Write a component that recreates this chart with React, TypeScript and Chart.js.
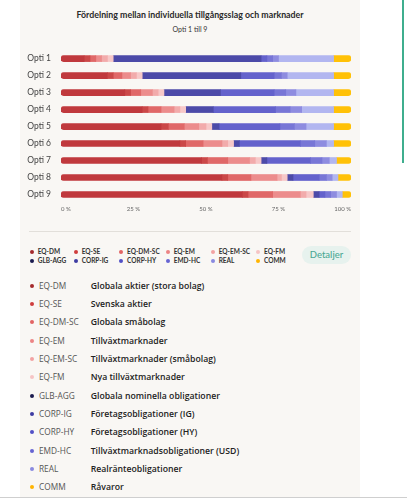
import React, { useEffect, useRef } from "react";
import { Chart, registerables } from "chart.js";

Chart.register(...registerables);

const categories = ["Opti 1", "Opti 2", "Opti 3", "Opti 4", "Opti 5", "Opti 6", "Opti 7", "Opti 8", "Opti 9"];
const tickValues = [0, 25, 50, 75, 100];

const eqDm = [8, 16, 22, 28, 34.5, 41, 48.5, 55.5, 62.5];
const eqSe = [2, 2, 2, 2, 2.5, 2, 2, 2, 2];
const eqDmSc = [2, 3, 3.5, 4.5, 5.5, 6, 7, 8, 8.5];
const eqEm = [2, 3, 4, 4.5, 5, 6.5, 7.5, 9, 9.5];
const eqEmSc = [2, 2, 2, 2, 2.5, 2, 2, 1.5, 2];
const eqFm = [2, 2, 2, 2, 2, 2, 2, 2, 2.5];
const glbAgg = [51, 34, 19.5, 9.5, 2.5, 2, 2, 2, 2];
const corpIg = [2, 11.5, 18.5, 21.5, 21, 21, 15, 9, 2];
const corpHy = [2, 2.5, 4, 5, 5, 5, 4, 2.5, 2];
const emdHc = [2, 2, 3.5, 4, 4, 4, 2.5, 2, 2];
const real = [19, 16, 13, 11, 9.5, 2.5, 2.5, 2, 2];
const comm = [6, 6, 6, 6, 6, 6, 5, 4.5, 3];

const codes = ["EQ-DM", "EQ-SE", "EQ-DM-SC", "EQ-EM", "EQ-EM-SC", "EQ-FM", "GLB-AGG", "CORP-IG", "CORP-HY", "EMD-HC", "REAL", "COMM"];
const descriptions = [
  "Globala aktier (stora bolag)",
  "Svenska aktier",
  "Globala småbolag",
  "Tillväxtmarknader",
  "Tillväxtmarknader (småbolag)",
  "Nya tillväxtmarknader",
  "Globala nominella obligationer",
  "Företagsobligationer (IG)",
  "Företagsobligationer (HY)",
  "Tillväxtmarknadsobligationer (USD)",
  "Realränteobligationer",
  "Råvaror",
];
const seriesValues = [eqDm, eqSe, eqDmSc, eqEm, eqEmSc, eqFm, glbAgg, corpIg, corpHy, emdHc, real, comm];
const barColors = ["#c0393d", "#cb4848", "#e06868", "#ec8c8c", "#f2abab", "#f7c8c8", "#4c4aa8", "#6462cc", "#7876d6", "#8e8ce0", "#b2b6f0", "#ffc107"];
const dotColors = ["#a52a2c", "#cf3d3d", "#e26464", "#ec8484", "#f2a2a2", "#f6c4c4", "#1b1b4e", "#3e3ca2", "#5250c6", "#6664d2", "#8a8ae0", "#ffb400"];

const FONT = "Lato, 'Open Sans', sans-serif";
const FONT2 = "'Open Sans', Lato, sans-serif";

function BarChart() {
  const ref = useRef<HTMLCanvasElement>(null);
  useEffect(() => {
    if (!ref.current) return;
    const n = seriesValues.length;
    const chart = new Chart(ref.current, {
      type: "bar",
      data: {
        labels: categories,
        datasets: seriesValues.map((vals, i) => ({
          label: codes[i],
          data: vals,
          backgroundColor: barColors[i],
          borderWidth: 0,
          borderSkipped: false,
          barThickness: 6,
          borderRadius:
            i === 0
              ? { topLeft: 3, bottomLeft: 3, topRight: 0, bottomRight: 0 }
              : i === n - 1
              ? { topLeft: 0, bottomLeft: 0, topRight: 3, bottomRight: 3 }
              : 0,
        })),
      },
      options: {
        indexAxis: "y",
        responsive: false,
        animation: false,
        layout: { padding: { top: 6, right: 9, left: 0, bottom: 0 } },
        plugins: { legend: { display: false }, tooltip: { enabled: false }, title: { display: false } },
        scales: {
          x: {
            stacked: true,
            min: 0,
            max: 100,
            grid: { display: false, drawTicks: false },
            border: { display: false },
            afterFit: (s: any) => {
              s.height = 17;
            },
            afterBuildTicks: (s: any) => {
              s.ticks = tickValues.map((v) => ({ value: v }));
            },
            ticks: {
              padding: 2,
              align: "inner",
              maxRotation: 0,
              color: "#666",
              font: { family: FONT, size: 6 },
              callback: (v: any) => `${v} %`,
            },
          },
          y: {
            stacked: true,
            grid: { display: false, drawTicks: false },
            border: { display: false },
            afterFit: (s: any) => {
              s.width = 41;
            },
            ticks: {
              padding: 10,
              color: "#444",
              font: { family: FONT, size: 8.5 },
            },
          },
        },
      },
    } as any);
    return () => chart.destroy();
  }, []);
  return (
    <canvas
      ref={ref}
      width={340}
      height={185}
      style={{ position: "absolute", left: 20, top: 35, width: 340, height: 185 }}
    />
  );
}

export default function App() {
  const legendCols = [31.7, 75.7, 121, 167.7, 212.7, 258];
  return (
    <div style={{ position: "absolute", left: 0, top: 0, width: 407, height: 499, background: "#fff", overflow: "hidden", fontFamily: FONT }}>
      <div style={{ position: "absolute", left: 20, top: 0, width: 340, height: 497, background: "#f9f7f4" }} />
      <div style={{ position: "absolute", left: 402, top: 0, width: 2, height: 163, background: "#3fae8e" }} />
      <div style={{ position: "absolute", left: 0, top: 497, width: 407, height: 1, background: "#cfcfcf" }} />
      <div style={{ position: "absolute", left: 20, top: 9, width: 340, textAlign: "center", fontSize: 8.8, fontWeight: 700, color: "#2a2a2a" }}>
        Fördelning mellan individuella tillgångsslag och marknader
      </div>
      <div style={{ position: "absolute", left: 20, top: 24.5, width: 340, textAlign: "center", fontSize: 7, color: "#333" }}>
        Opti 1 till 9
      </div>
      <BarChart />
      <div style={{ position: "absolute", left: 29, top: 231, width: 322, height: 1, background: "#e2dfda" }} />
      {codes.map((c, i) => {
        const col = i % 6;
        const row = Math.floor(i / 6);
        const cx = legendCols[col];
        const cy = 251.7 + row * 9.3;
        return (
          <React.Fragment key={"lg" + c}>
            <div style={{ position: "absolute", left: cx - 2, top: cy - 2, width: 4, height: 4, borderRadius: 2, background: dotColors[i] }} />
            <div style={{ position: "absolute", left: cx + 6, top: cy - 5, height: 10, lineHeight: "10px", fontSize: 6.5, fontWeight: 700, color: "#333", whiteSpace: "nowrap" }}>
              {c}
            </div>
          </React.Fragment>
        );
      })}
      <div style={{ position: "absolute", left: 302, top: 245.5, width: 49, height: 18, borderRadius: 9, background: "#e7f2ee", color: "#4aa894", fontSize: 9.5, fontWeight: 500, lineHeight: "18px", textAlign: "center" }}>
        Detaljer
      </div>
      {codes.map((c, i) => {
        const cy = 285.7 + i * 18.33;
        return (
          <React.Fragment key={"dl" + c}>
            <div style={{ position: "absolute", left: 29.7, top: cy - 2, width: 4, height: 4, borderRadius: 2, background: dotColors[i] }} />
            <div style={{ position: "absolute", left: 39, top: cy - 6, height: 12, lineHeight: "12px", fontFamily: FONT2, fontSize: 8.3, color: "#555", whiteSpace: "nowrap" }}>
              {c}
            </div>
            <div style={{ position: "absolute", left: 90.7, top: cy - 6, height: 12, lineHeight: "12px", fontFamily: FONT2, fontSize: 8.7, fontWeight: 600, color: "#222", whiteSpace: "nowrap" }}>
              {descriptions[i]}
            </div>
          </React.Fragment>
        );
      })}
    </div>
  );
}
